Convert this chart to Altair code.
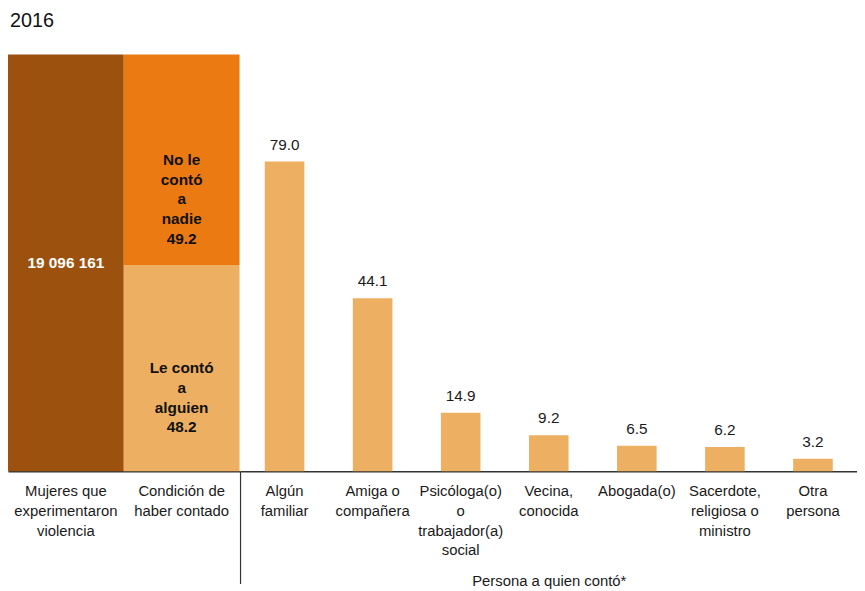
import altair as alt
import pandas as pd

FONT = "Liberation Sans"

# ---- data ----
anio = "2016"
grupo_cats = ["Mujeres que|experimentaron|violencia", "Condición de|haber contado"]
total_mujeres_label = "19 096 161"
cond_names = ["Le contó|a|alguien", "No le|contó|a|nadie"]
cond_values = [48.2, 49.2]

persona_cats = [
    "Algún|familiar",
    "Amiga o|compañera",
    "Psicóloga(o)|o|trabajador(a)|social",
    "Vecina,|conocida",
    "Abogada(o)",
    "Sacerdote,|religiosa o|ministro",
    "Otra|persona",
]
persona_values = [79.0, 44.1, 14.9, 9.2, 6.5, 6.2, 3.2]
persona_title = "Persona a quien contó*"

colors = {"total": "#9C520E", "no": "#EC7A13", "si": "#EDAF61"}

# ---- tables ----
total = sum(cond_values)
rows = [dict(col=grupo_cats[0], seg="total", y0=0.0, y1=total,
             label=total_mujeres_label, tc="white")]
acc = 0.0
for name, v, seg in zip(cond_names, cond_values, ["si", "no"]):
    rows.append(dict(col=grupo_cats[1], seg=seg, y0=acc, y1=acc + v,
                     label=f"{name}|{v:.1f}", tc="#111111"))
    acc += v
left_df = pd.DataFrame(rows)
left_df["mid"] = (left_df["y0"] + left_df["y1"]) / 2

right_df = pd.DataFrame({"cat": persona_cats, "val": persona_values,
                         "lab": [f"{v:.1f}" for v in persona_values]})

H = 421
LW = 234
RW = 623

label_expr = "split(datum.label, '|')"
xaxis_common = dict(labelExpr=label_expr, labelAngle=0, ticks=False,
                    labelFontSize=15, labelLineHeight=19.8, labelPadding=13,
                    labelFont=FONT, labelColor="#1a1a1a", domainColor="#333333",
                    domainWidth=1.5, labelLimit=200)

# ---- left panel ----
lx = alt.X("col:N", sort=grupo_cats,
           scale=alt.Scale(paddingInner=0, paddingOuter=0),
           axis=alt.Axis(title=None, **xaxis_common))
ly_scale = alt.Scale(domain=[0, total], nice=False)

left_bars = alt.Chart(left_df).mark_bar().encode(
    x=lx,
    y=alt.Y("y0:Q", scale=ly_scale, axis=None),
    y2="y1:Q",
    color=alt.Color("seg:N", scale=alt.Scale(domain=list(colors.keys()),
                                             range=list(colors.values())), legend=None),
)
left_text = alt.Chart(left_df).mark_text(
    lineBreak="|", fontWeight="bold", fontSize=15.5, lineHeight=20,
    baseline="middle", font=FONT
).encode(
    x=lx,
    y=alt.Y("mid:Q", scale=ly_scale, axis=None),
    text="label:N",
    color=alt.Color("tc:N", scale=None),
)
left = alt.layer(left_bars, left_text).properties(width=LW, height=H)

# ---- right panel ----
rx = alt.X("cat:N", sort=persona_cats,
           scale=alt.Scale(paddingInner=0, paddingOuter=0),
           axis=alt.Axis(title=persona_title, titleFontSize=15, titleFont=FONT,
                         titleFontWeight="normal", titleColor="#1a1a1a",
                         titlePadding=16, **xaxis_common))
ry_scale = alt.Scale(domain=[0, 106.3], nice=False)

right_bars = alt.Chart(right_df).mark_bar(size=40, color=colors["si"]).encode(
    x=rx, y=alt.Y("val:Q", scale=ry_scale, axis=None)
)
right_text = alt.Chart(right_df).mark_text(
    fontSize=15.5, baseline="bottom", dy=-9, font=FONT, color="#1a1a1a"
).encode(
    x=rx, y=alt.Y("val:Q", scale=ry_scale, axis=None), text="lab:N"
)
divider = alt.Chart(pd.DataFrame({"d": [0]})).mark_rule(
    color="#333333", strokeWidth=1.2
).encode(x=alt.value(0), y=alt.value(H), y2=alt.value(H + 114))

right = alt.layer(right_bars, right_text, divider).properties(width=RW, height=H)

chart = alt.hconcat(left, right, spacing=0).properties(
    title=alt.TitleParams(anio, anchor="start", fontSize=20, fontWeight="normal",
                          font=FONT, color="#111111", offset=26, dx=2, dy=2),
    padding={"left": 0, "top": 0, "right": 0, "bottom": 0},
).configure_view(stroke=None).configure_concat(spacing=0)

chart.save("out.html", embed_options={"renderer": "svg", "actions": False})
